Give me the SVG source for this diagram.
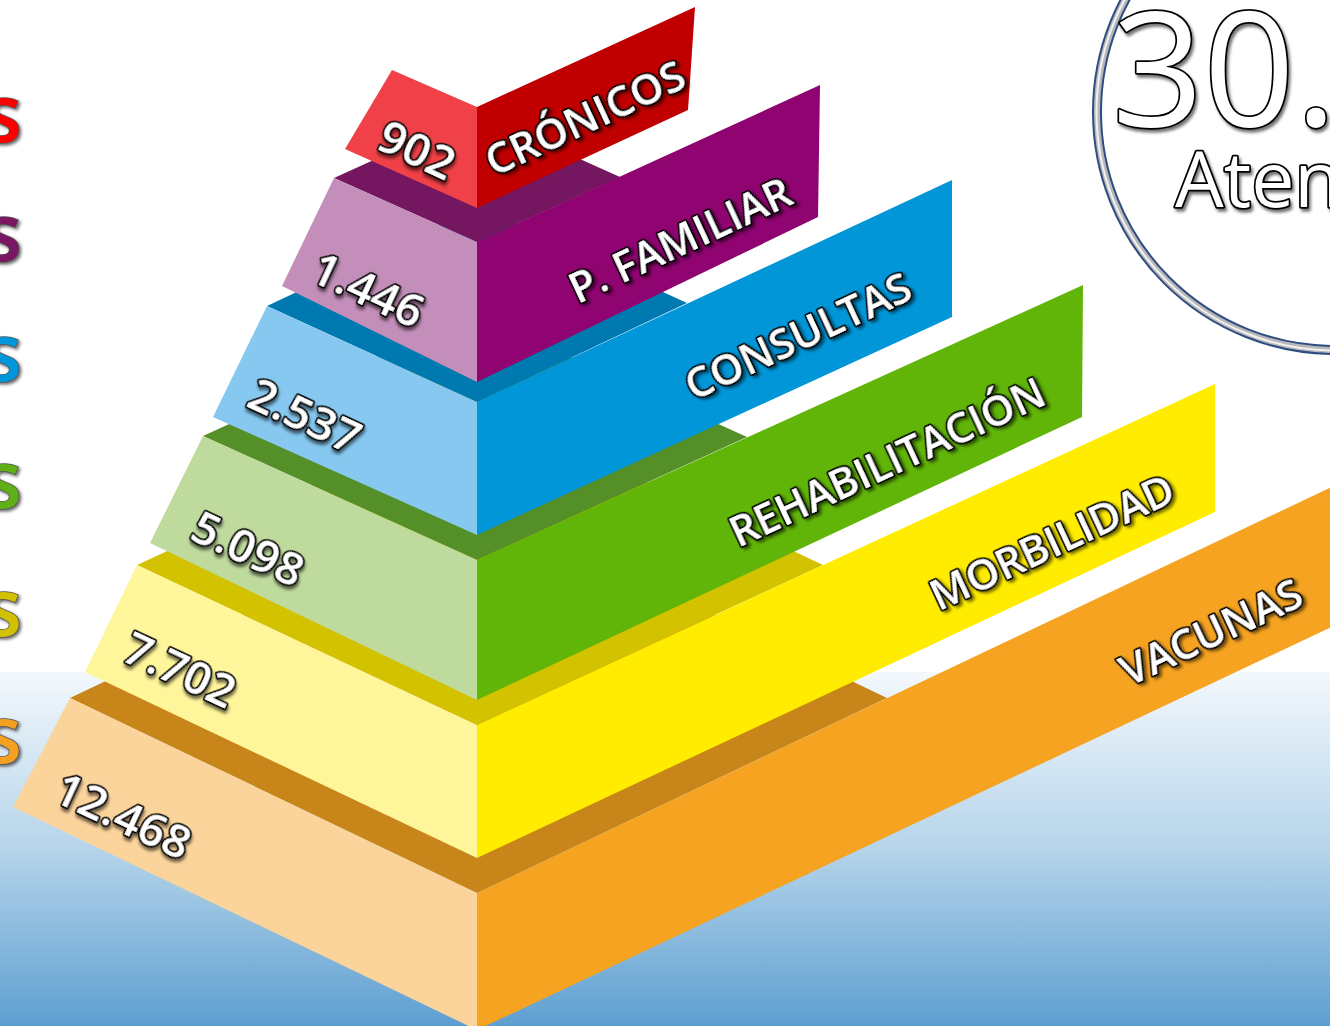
<svg xmlns="http://www.w3.org/2000/svg" width="1330" height="1026" viewBox="0 0 1330 1026">
  <defs>
    <linearGradient id="bg" x1="0" y1="0" x2="0" y2="1">
      <stop offset="0" stop-color="#F3F8FC"/>
      <stop offset="0.5" stop-color="#B5D4EA"/>
      <stop offset="1" stop-color="#5E9FD1"/>
    </linearGradient>
    <filter id="sh" x="-20%" y="-20%" width="140%" height="140%">
      <feDropShadow dx="2" dy="3" stdDeviation="1.5" flood-color="#000" flood-opacity="0.55"/>
    </filter>
    <filter id="shs" x="-20%" y="-20%" width="140%" height="140%">
      <feDropShadow dx="2" dy="2" stdDeviation="1.5" flood-color="#333" flood-opacity="0.7"/>
    </filter>
    <style>
      .lbl { font-family: "Open Sans", "Liberation Sans", sans-serif; font-weight: 600; fill: #fff; stroke: #000; stroke-width: 3.5; stroke-linejoin: round; paint-order: stroke fill; filter: url(#sh); }
      .big { font-weight: 400; }
      .num { font-size: 46px; text-anchor: middle; }
      .band { font-size: 42px; text-anchor: middle; }
      .side { font-family: "Open Sans", "Liberation Sans", sans-serif; font-weight: 600; font-size: 80px; stroke: #555; stroke-width: 1.5; paint-order: stroke fill; filter: url(#shs); }
    </style>
  </defs>

  <rect x="0" y="0" width="1330" height="1026" fill="#fff"/>
  <rect x="0" y="672" width="1330" height="354" fill="url(#bg)"/>

  <!-- side letters (cut off at left edge) -->
  <g id="side-letters">
    <text class="side" x="-17" y="142" fill="#FF0000">s</text>
    <text class="side" x="-17" y="261" fill="#7A1262">s</text>
    <text class="side" x="-17" y="381" fill="#0096DB">s</text>
    <text class="side" x="-17" y="508" fill="#5EAF16">s</text>
    <text class="side" x="-17" y="636" fill="#D2C100">s</text>
    <text class="side" x="-17" y="763" fill="#F5A020">s</text>
  </g>

  <!-- circle top right -->
  <g id="total">
    <circle cx="1335" cy="112" r="238" fill="#fff" stroke="#2E4E82" stroke-width="10"/>
    <circle cx="1335" cy="112" r="238" fill="none" stroke="#B8B8B8" stroke-width="6"/>
    <circle cx="1335" cy="112" r="238.5" fill="none" stroke="#F2F2F2" stroke-width="2"/>
    <text class="lbl big" x="1112" y="126" font-size="160" stroke-width="6">30.</text>
    <text class="lbl big" x="1175" y="207" font-size="77" stroke-width="4.5">Aten</text>
  </g>

  <!-- VACUNAS -->
  <g id="layer-vacunas">
    <polygon points="477,893 70,698 480,503 887,698" fill="#C7851A"/>
    <polygon points="70,698 477,893 477,1030 13,807" fill="#FBD49C"/>
    <polygon points="477,893 1340,483 1340,623 477,1030" fill="#F5A320"/>
    <text class="lbl num" transform="translate(123,816) rotate(25)" y="16">12.468</text>
    <text class="lbl band" transform="translate(1211,632) rotate(-25)" y="15">VACUNAS</text>
  </g>

  <!-- MORBILIDAD -->
  <g id="layer-morbilidad">
    <polygon points="477,725 137,565 483,405 823,565" fill="#D3C200"/>
    <polygon points="137,565 477,725 477,858 85,672" fill="#FFF59B"/>
    <polygon points="477,725 1215,384 1215,512 477,858" fill="#FFEC00"/>
    <text class="lbl num" transform="translate(180,670) rotate(25)" y="16">7.702</text>
    <text class="lbl band" transform="translate(1052,542) rotate(-25)" y="15">MORBILIDAD</text>
  </g>

  <!-- REHABILITACIÓN -->
  <g id="layer-rehabilitacion">
    <polygon points="477,560 203,436 473,313 747,437" fill="#548F28"/>
    <polygon points="203,436 477,560 477,700 150,543" fill="#BFDA9D"/>
    <polygon points="477,560 1083,285 1082,417 477,700" fill="#60B508"/>
    <text class="lbl num" transform="translate(248,549) rotate(25)" y="16">5.098</text>
    <text class="lbl band" transform="translate(887,462) rotate(-25)" y="15">REHABILITACIÓN</text>
  </g>

  <!-- CONSULTAS -->
  <g id="layer-consultas">
    <polygon points="477,402 267,306 477,207 687,303" fill="#0079B0"/>
    <polygon points="267,306 477,402 477,535 213,417" fill="#86C8F0"/>
    <polygon points="477,402 952,180 952,317 477,535" fill="#0096D8"/>
    <text class="lbl num" transform="translate(305,416) rotate(25)" y="16">2.537</text>
    <text class="lbl band" transform="translate(798,336) rotate(-25)" y="15">CONSULTAS</text>
  </g>

  <!-- P. FAMILIAR -->
  <g id="layer-p-familiar">
    <polygon points="477,242 334,178 477,113 620,177" fill="#741660"/>
    <polygon points="334,178 477,242 477,382 282,286" fill="#C38EB9"/>
    <polygon points="477,242 820,85 818,217 477,382" fill="#8F0470"/>
    <text class="lbl num" transform="translate(368,290) rotate(25)" y="16">1.446</text>
    <text class="lbl band" transform="translate(680,240) rotate(-25)" y="15">P. FAMILIAR</text>
  </g>

  <!-- CRÓNICOS -->
  <g id="layer-cronicos">
    <polygon points="392,70 477,107 477,208 345,149" fill="#EF4147"/>
    <polygon points="477,107 695,7 688,110 477,208" fill="#C00000"/>
    <text class="lbl num" transform="translate(417,150) rotate(25)" y="16">902</text>
    <text class="lbl band" transform="translate(585,118) rotate(-25)" y="15">CRÓNICOS</text>
  </g>

  <g id="connectors"/>
</svg>
